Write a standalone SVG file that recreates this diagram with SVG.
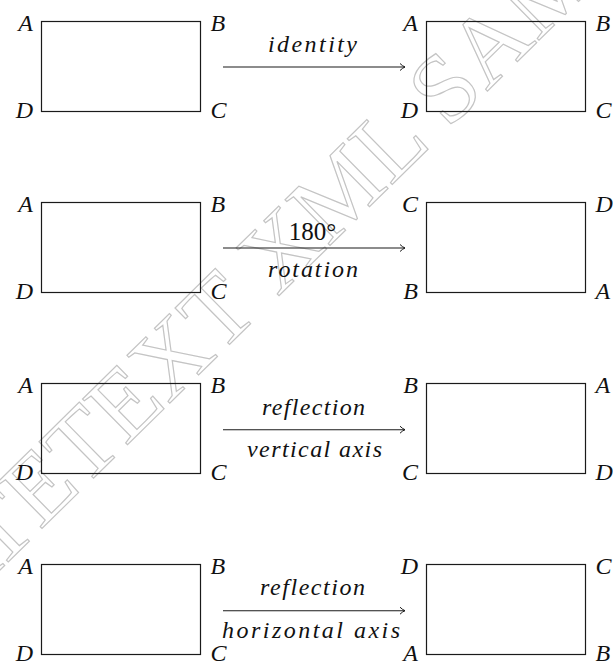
<svg xmlns="http://www.w3.org/2000/svg" width="613" height="667" viewBox="0 0 613 667">
<style>
.box{fill:none;stroke:#1a1a1a;stroke-width:1.2}
.lbl{font-family:"Liberation Serif",serif;font-style:italic;font-size:24px;fill:#111}
.up{font-family:"Liberation Serif",serif;font-size:25px;fill:#111}
.arr{stroke:#1a1a1a;stroke-width:1.1;fill:none}
.wm{font-family:"Liberation Serif",serif;font-size:98px;fill:none;stroke:#c4c4c4;stroke-width:1.2}
</style>
<defs>
<marker id="to" markerWidth="10" markerHeight="10" refX="9" refY="5" orient="auto" markerUnits="userSpaceOnUse">
<path d="M4,1.5 Q6.5,4 9,5 Q6.5,6 4,8.5" fill="none" stroke="#1a1a1a" stroke-width="1"/>
</marker>
</defs>
<rect width="613" height="667" fill="#fff"/>
<g id="watermark">
<text class="wm" x="248" y="280" text-anchor="middle" dominant-baseline="central" transform="rotate(-44.5 248 280)">CREATETEXT XML SAMPLE</text>
</g>
<g id="row1-left">
<rect class="box" x="41.5" y="21.5" width="159" height="90"/>
<text class="lbl" x="33" y="30.5" text-anchor="end">A</text>
<text class="lbl" x="210.5" y="30.5">B</text>
<text class="lbl" x="210.5" y="118">C</text>
<text class="lbl" x="33" y="118" text-anchor="end">D</text>
</g>
<g id="row1-right">
<rect class="box" x="426.5" y="21.5" width="159" height="90"/>
<text class="lbl" x="418" y="30.5" text-anchor="end">A</text>
<text class="lbl" x="595.5" y="30.5">B</text>
<text class="lbl" x="595.5" y="118">C</text>
<text class="lbl" x="418" y="118" text-anchor="end">D</text>
</g>
<g id="row2-left">
<rect class="box" x="41.5" y="202.5" width="159" height="90"/>
<text class="lbl" x="33" y="211.5" text-anchor="end">A</text>
<text class="lbl" x="210.5" y="211.5">B</text>
<text class="lbl" x="210.5" y="299">C</text>
<text class="lbl" x="33" y="299" text-anchor="end">D</text>
</g>
<g id="row2-right">
<rect class="box" x="426.5" y="202.5" width="159" height="90"/>
<text class="lbl" x="418" y="211.5" text-anchor="end">C</text>
<text class="lbl" x="595.5" y="211.5">D</text>
<text class="lbl" x="595.5" y="299">A</text>
<text class="lbl" x="418" y="299" text-anchor="end">B</text>
</g>
<g id="row3-left">
<rect class="box" x="41.5" y="383.5" width="159" height="90"/>
<text class="lbl" x="33" y="392.5" text-anchor="end">A</text>
<text class="lbl" x="210.5" y="392.5">B</text>
<text class="lbl" x="210.5" y="480">C</text>
<text class="lbl" x="33" y="480" text-anchor="end">D</text>
</g>
<g id="row3-right">
<rect class="box" x="426.5" y="383.5" width="159" height="90"/>
<text class="lbl" x="418" y="392.5" text-anchor="end">B</text>
<text class="lbl" x="595.5" y="392.5">A</text>
<text class="lbl" x="595.5" y="480">D</text>
<text class="lbl" x="418" y="480" text-anchor="end">C</text>
</g>
<g id="row4-left">
<rect class="box" x="41.5" y="564.5" width="159" height="90"/>
<text class="lbl" x="33" y="573.5" text-anchor="end">A</text>
<text class="lbl" x="210.5" y="573.5">B</text>
<text class="lbl" x="210.5" y="660.5">C</text>
<text class="lbl" x="33" y="660.5" text-anchor="end">D</text>
</g>
<g id="row4-right">
<rect class="box" x="426.5" y="564.5" width="159" height="90"/>
<text class="lbl" x="418" y="573.5" text-anchor="end">D</text>
<text class="lbl" x="595.5" y="573.5">C</text>
<text class="lbl" x="595.5" y="660.5">B</text>
<text class="lbl" x="418" y="660.5" text-anchor="end">A</text>
</g>
<g id="connectors">
<line class="arr" x1="223" y1="67" x2="405" y2="67" marker-end="url(#to)"/>
<line class="arr" x1="223" y1="248" x2="405" y2="248" marker-end="url(#to)"/>
<line class="arr" x1="223" y1="429.7" x2="405" y2="429.7" marker-end="url(#to)"/>
<line class="arr" x1="223" y1="610.7" x2="405" y2="610.7" marker-end="url(#to)"/>
<text class="lbl" x="268" y="52" textLength="89" lengthAdjust="spacing">identity</text>
<text class="up" x="312.5" y="240" text-anchor="middle">180°</text>
<text class="lbl" x="268" y="277" textLength="90" lengthAdjust="spacing">rotation</text>
<text class="lbl" x="262" y="415" textLength="103" lengthAdjust="spacing">reflection</text>
<text class="lbl" x="247" y="457" textLength="135" lengthAdjust="spacing">vertical axis</text>
<text class="lbl" x="260" y="595" textLength="105" lengthAdjust="spacing">reflection</text>
<text class="lbl" x="222" y="638" textLength="178" lengthAdjust="spacing">horizontal axis</text>
</g>
</svg>
